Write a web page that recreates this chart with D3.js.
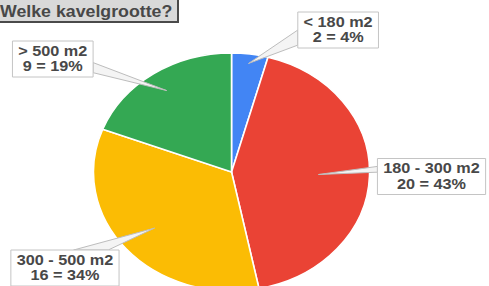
<!DOCTYPE html>
<html>
<head>
<meta charset="utf-8">
<script src="https://cdn.jsdelivr.net/npm/d3@7"></script>
<style>
  html, body { margin: 0; padding: 0; background: #fff; overflow: hidden; }
  text { font-family: "Liberation Sans", Arial, sans-serif; font-weight: bold; fill: #484848; }
</style>
</head>
<body>
<div id="chart"></div>
<script>
// survey answers
var categories = ['< 180 m2', '180 - 300 m2', '300 - 500 m2', '> 500 m2'];
var counts = [2, 20, 16, 9];
var percents = [4, 43, 34, 19];
var colors = ['#4285f4', '#ea4335', '#fbbc04', '#34a853'];

// callout placement (unscaled coords), tip as fraction of radius
var callouts = [
    {cx: 291.5, cy: 30, tip: 0.92, side: 'left', a: 0.5, b: 0.92},
    {cx: 372, cy: 176.5, tip: 0.63, side: 'left', a: 0.22, b: 0.38},
    {cx: 56, cy: 268, tip: 0.73, side: 'top', a: 0.58, b: 0.9},
    {cx: 45.5, cy: 59, tip: 0.83, side: 'right', a: 0.6, b: 0.88}
];

var width = 489, height = 286,
    sx = 1.16,
    center = [199.6, 172],
    radius = 119;

var svg = d3.select('#chart').append('svg')
    .attr('width', width)
    .attr('height', height);

var root = svg.append('g').attr('transform', 'scale(' + sx + ',1)');

var pie = d3.pie().sort(null).value(function (d) { return d; });
var arcs = pie(counts);

var arc = d3.arc().innerRadius(0).outerRadius(radius);

var pieG = root.append('g').attr('transform', 'translate(' + center[0] + ',' + center[1] + ')');

pieG.selectAll('path')
    .data(arcs)
    .enter().append('path')
    .attr('d', arc)
    .attr('fill', function (d, i) { return colors[i]; })
    .attr('stroke', '#fff')
    .attr('stroke-width', 1.6)
    .attr('vector-effect', 'non-scaling-stroke');

// callouts
var labelG = root.append('g');

arcs.forEach(function (d, i) {
    var c = callouts[i];
    var tipArc = d3.arc().innerRadius(radius * c.tip).outerRadius(radius * c.tip);
    var t = tipArc.centroid(d);
    var tip = [t[0] + center[0], t[1] + center[1]];

    var g = labelG.append('g');
    var txt = g.append('text')
        .attr('text-anchor', 'middle')
        .attr('font-size', 14);
    txt.append('tspan').attr('x', c.cx).attr('y', c.cy - 3).text(categories[i]);
    txt.append('tspan').attr('x', c.cx).attr('y', c.cy + 12.5).text(counts[i] + ' = ' + percents[i] + '%');

    var w = txt.node().getBBox().width + 10,
        h = 36,
        x0 = c.cx - w / 2,
        y0 = c.cy - h / 2;

    var p1, p2;
    if (c.side === 'left') {
        p1 = [x0, y0 + h * c.a]; p2 = [x0, y0 + h * c.b];
    } else if (c.side === 'right') {
        p1 = [x0 + w, y0 + h * c.a]; p2 = [x0 + w, y0 + h * c.b];
    } else {
        p1 = [x0 + w * c.a, y0]; p2 = [x0 + w * c.b, y0];
    }

    g.insert('path', 'text')
        .attr('d', d3.line()([p1, tip, p2]) + 'Z')
        .attr('fill', '#f4f4f4')
        .attr('stroke', '#bdbdbd')
        .attr('stroke-width', 1)
        .attr('vector-effect', 'non-scaling-stroke');

    g.insert('rect', 'text')
        .attr('x', x0)
        .attr('y', y0)
        .attr('width', w)
        .attr('height', h)
        .attr('fill', '#fff')
        .attr('stroke', '#c4c4c4')
        .attr('stroke-width', 1)
        .attr('vector-effect', 'non-scaling-stroke');
});

// title box
var title = svg.append('g');
title.append('rect')
    .attr('x', -2).attr('y', -2)
    .attr('width', 180).attr('height', 24)
    .attr('fill', '#d9d9d9')
    .attr('stroke', '#4a4a4a')
    .attr('stroke-width', 2);
title.append('text')
    .attr('transform', 'scale(1.045,1)')
    .attr('x', 0)
    .attr('y', 17)
    .attr('font-size', 17)
    .text('Welke kavelgrootte?');
</script>
</body>
</html>
